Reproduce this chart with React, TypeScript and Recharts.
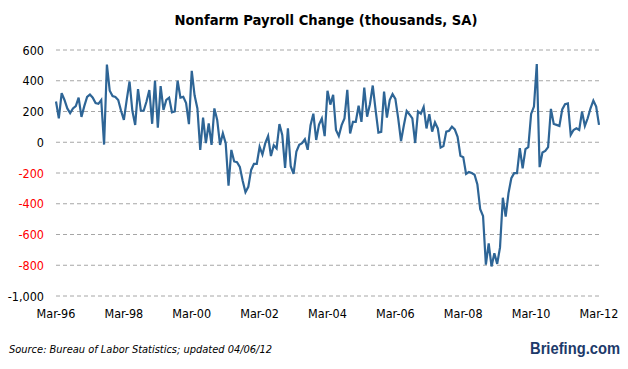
import { LineChart, Line, XAxis, YAxis, CartesianGrid } from 'recharts'

// monthly change in nonfarm payrolls, thousands, Mar-96 .. Mar-12
const PAYROLL_CHANGE = [
  265, 155, 320, 275, 220, 190, 220, 235, 290, 165,
  235, 295, 310, 290, 255, 250, 275, -15, 505, 335, 300, 295,
  275, 205, 145, 275, 395, 205, 112, 345, 205, 205, 265, 340,
  120, 400, 95, 365, 210, 275, 290, 195, 200, 400, 290, 295,
  255, 118, 465, 305, 220, -50, 160, -5, 123, -17, 220, 145,
  -17, 58, -6, -282, -50, -125, -130, -160, -250, -325, -290, -180,
  -140, -140, -30, -80, -6, 40, -90, -20, -40, 118, 47, -167,
  90, -156, -205, -60, -17, -6, 19, -49, 111, 186, 15, 115,
  155, 40, 335, 245, 308, 80, 40, 111, 155, 341, 57, 133,
  133, 238, 133, 356, 166, 247, 369, 210, 63, 68, 330, 160,
  275, 313, 282, 155, 7, 111, 203, 181, 155, -5, 200, 185,
  230, 90, 183, 69, 129, 90, -35, -25, 69, 75, 101, 84,
  35, -88, -97, -206, -194, -200, -211, -275, -436, -480, -796, -658,
  -808, -722, -791, -684, -361, -483, -331, -234, -201, -201, -39, -169,
  -45, -32, 184, 232, 509, -162, -67, -56, -32, 217, 119, 113,
  106, 214, 247, 253, 48, 80, 91, 80, 199, 106, 156, 221,
  271, 232, 113,
]

const MONTH_NAMES = ['Jan', 'Feb', 'Mar', 'Apr', 'May', 'Jun', 'Jul', 'Aug', 'Sep', 'Oct', 'Nov', 'Dec']
const FIRST_MONTH = 2 // March
const FIRST_YEAR = 96

const MONTHS = PAYROLL_CHANGE.map((_, i) => {
  const m = FIRST_MONTH + i
  const yy = (FIRST_YEAR + Math.floor(m / 12)) % 100
  return `${MONTH_NAMES[m % 12]}-${String(yy).padStart(2, '0')}`
})

const Y_TICKS = [-1000, -800, -600, -400, -200, 0, 200, 400, 600]

const data = MONTHS.map((month, i) => ({ month, value: PAYROLL_CHANGE[i] }))

const FONT = '"DejaVu Sans Condensed", "Liberation Sans", sans-serif'

const YTick = (props: any) => {
  const { x, y, payload } = props
  const v = payload.value as number
  const fill = v < 0 && v > -1000 ? '#ff0000' : '#000000'
  return (
    <text x={x} y={y} dy={4.5} textAnchor="end" fontSize={12.5} fontFamily={FONT} fill={fill}>
      {v.toLocaleString('en-US')}
    </text>
  )
}

export default function App() {
  return (
    <div style={{ position: 'absolute', left: 0, top: 0, width: 628, height: 369, background: '#fff' }}>
      <LineChart
        width={628}
        height={369}
        data={data}
        margin={{ top: 50, right: 29, left: 0, bottom: 43 }}
      >
        <CartesianGrid vertical={false} stroke="#a6a6a6" strokeDasharray="4 3" />
        <XAxis
          dataKey="month"
          interval={23}
          height={30}
          tickLine={false}
          axisLine={false}
          tickMargin={7}
          tick={{ fontSize: 12.5, fontFamily: FONT, fill: '#000' }}
        />
        <YAxis
          width={56}
          domain={[-1000, 600]}
          ticks={Y_TICKS}
          tickLine={false}
          axisLine={false}
          tickMargin={6}
          tick={<YTick />}
        />
        <Line
          type="linear"
          dataKey="value"
          stroke="#2e6596"
          strokeWidth={2.2}
          dot={false}
          isAnimationActive={false}
        />
      </LineChart>
      <svg width={628} height={369} style={{ position: 'absolute', left: 0, top: 0, pointerEvents: 'none' }}>
        <text x={326} y={25} textAnchor="middle" fontSize={14} fontWeight="bold" fontFamily={FONT} fill="#000"
          textLength={303} lengthAdjust="spacingAndGlyphs">
          Nonfarm Payroll Change (thousands, SA)
        </text>
        <text x={9} y={353} fontSize={11} fontStyle="italic" fontFamily={FONT} fill="#000"
          textLength={263} lengthAdjust="spacingAndGlyphs">
          Source: Bureau of Labor Statistics; updated 04/06/12
        </text>
        <text x={620} y={354} textAnchor="end" fontSize={16} fontWeight="bold" fontFamily='"Liberation Sans", sans-serif' fill="#1d3a6a"
          textLength={90} lengthAdjust="spacingAndGlyphs">
          Briefing.com
        </text>
      </svg>
    </div>
  )
}
